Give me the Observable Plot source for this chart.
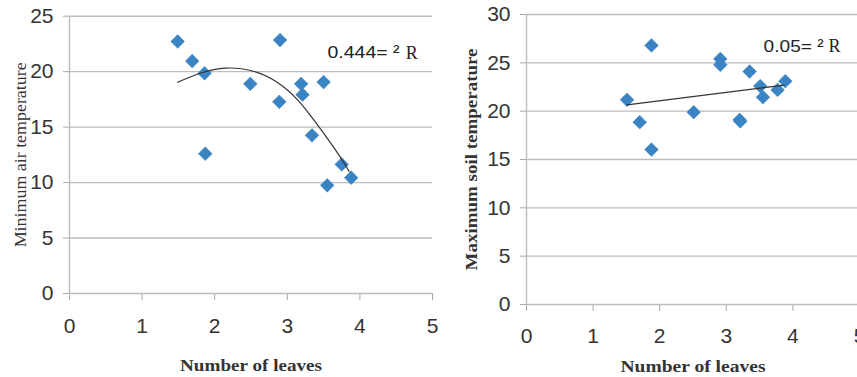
<!DOCTYPE html>
<html>
<head>
<meta charset="utf-8">
<script src="https://cdn.jsdelivr.net/npm/d3@7"></script>
<script src="https://cdn.jsdelivr.net/npm/@observablehq/plot@0.6"></script>
<style>
  html, body { margin: 0; padding: 0; background: #fff; }
  #wrap { position: relative; width: 857px; height: 377px; overflow: hidden; background: #fff; }
  #left, #right { position: absolute; top: 0; height: 377px; }
  #left { left: 0; width: 440px; }
  #right { left: 440px; width: 425px; }
  #wrap svg { max-width: none !important; display: block; }
  g[aria-label="x-axis tick"], g[aria-label="y-axis tick"] { stroke: #a8a8a8; }
</style>
</head>
<body>
<div id="wrap"><div id="left"></div><div id="right"></div></div>
<script>
// ---- data ----
const xTicks = [0, 1, 2, 3, 4, 5];
const yTicksAir = [0, 5, 10, 15, 20, 25];
const yTicksSoil = [0, 5, 10, 15, 20, 25, 30];

const leavesAir = [1.49, 1.69, 1.86, 1.87, 2.49, 2.90, 2.89, 3.19, 3.21, 3.34, 3.50, 3.55, 3.75, 3.88];
const minAirTemp = [22.72, 20.95, 19.85, 12.6, 18.9, 22.85, 17.28, 18.9, 17.92, 14.26, 19.06, 9.75, 11.64, 10.44];

const leavesSoil = [1.51, 1.70, 1.876, 1.876, 2.51, 2.91, 2.91, 3.20, 3.21, 3.35, 3.51, 3.55, 3.77, 3.886];
const maxSoilTemp = [21.18, 18.86, 26.8, 16.03, 19.9, 25.4, 24.8, 19.1, 18.95, 24.1, 22.6, 21.45, 22.2, 23.1];

// trendlines
const trendAirX = [1.49, 2.15, 2.86, 3.37, 3.73, 3.85];
const trendAirY = [19.05, 20.32, 19.05, 15.6, 12.3, 11.0];
const trendSoilX = [1.51, 3.87];
const trendSoilY = [20.65, 22.7];

// R² annotations
const annotAir = {x: 3.554, xR: 4.63, y: 21.7, text: "0.444= \u00B2", r: "R"};
const annotSoil = {x: 3.56, xR: 4.535, y: 26.7, text: "0.05= \u00B2", r: "R"};

const xLabel = "Number of leaves";
const yLabelAir = "Minimum air temperature";
const yLabelSoil = "Maximum soil temperature";

// ---- helpers ----
const pts = (xs, ys) => xs.map((x, i) => ({x, y: ys[i]}));
const blue = "#3b84c4";
const gridColor = "#bcbcbc";
const serif = "Liberation Serif, Times New Roman, serif";
const sans = "Liberation Sans, Arial, sans-serif";

function fitText(svg, content, len) {
  d3.select(svg).selectAll("text")
    .filter(function () { return this.textContent === content; })
    .attr("textLength", len)
    .attr("lengthAdjust", "spacingAndGlyphs");
}

function chart(o) {
  return Plot.plot({
    width: o.width, height: 377,
    marginLeft: o.ml, marginRight: o.mr, marginTop: o.mt, marginBottom: o.mb,
    style: {fontFamily: sans, fontSize: "21px", color: "#333", background: "#fff", overflow: "visible"},
    x: {domain: [0, 5], ticks: xTicks, tickFormat: d3.format("d"), tickSize: 7, tickPadding: o.xpad, label: null},
    y: {domain: o.ydomain, ticks: o.yticks, tickFormat: d3.format("d"), tickSize: 6, tickPadding: 10, label: null},
    marks: [
      Plot.ruleY(o.yticks, {stroke: gridColor, strokeWidth: 1.4}),
      Plot.ruleX([0], {stroke: gridColor, strokeWidth: 1.4}),
      Plot.dot(o.data, {x: "x", y: "y", symbol: "diamond2", r: 6.2, fill: blue, stroke: blue, strokeWidth: 0.5}),
      Plot.line(o.trend, {x: "x", y: "y", curve: o.curve, stroke: "#333", strokeWidth: 1.2}),
      Plot.text([o.annot], {x: "x", y: "y", text: "text", textAnchor: "start", fontFamily: sans, fontSize: 17, fill: "#222"}),
      Plot.text([o.annot], {x: "xR", y: "y", text: "r", textAnchor: "start", fontFamily: serif, fontSize: 18, fill: "#222"}),
      Plot.text([xLabel], {frameAnchor: "bottom", dy: o.xlabDy, textAnchor: "middle", fontFamily: serif, fontWeight: "bold", fontSize: 17, fill: "#333", lineAnchor: "middle"}),
      Plot.text([o.ylabel], {frameAnchor: "left", dx: o.ylabDx, rotate: -90, textAnchor: "middle", fontFamily: serif, fontWeight: o.ylabWeight, fontSize: 17, fill: "#333", lineAnchor: "middle"})
    ]
  });
}

const left = chart({
  width: 440, ml: 69, mr: 8, mt: 15.7, mb: 84, xpad: 18,
  ydomain: [0, 25], yticks: yTicksAir,
  data: pts(leavesAir, minAirTemp), trend: pts(trendAirX, trendAirY), curve: "natural",
  annot: annotAir, xlabDy: 72, ylabel: yLabelAir, ylabDx: -49, ylabWeight: "normal"
});
fitText(left, xLabel, 142);
fitText(left, yLabelAir, 185);
fitText(left, annotAir.text, 72);
document.getElementById("left").appendChild(left);

const right = chart({
  width: 425, ml: 86, mr: 6, mt: 14, mb: 73, xpad: 17,
  ydomain: [0, 30], yticks: yTicksSoil,
  data: pts(leavesSoil, maxSoilTemp), trend: pts(trendSoilX, trendSoilY), curve: "linear",
  annot: annotSoil, xlabDy: 62, ylabel: yLabelSoil, ylabDx: -55, ylabWeight: "bold"
});
fitText(right, xLabel, 145);
fitText(right, yLabelSoil, 222);
fitText(right, annotSoil.text, 60);
document.getElementById("right").appendChild(right);
</script>
</body>
</html>
